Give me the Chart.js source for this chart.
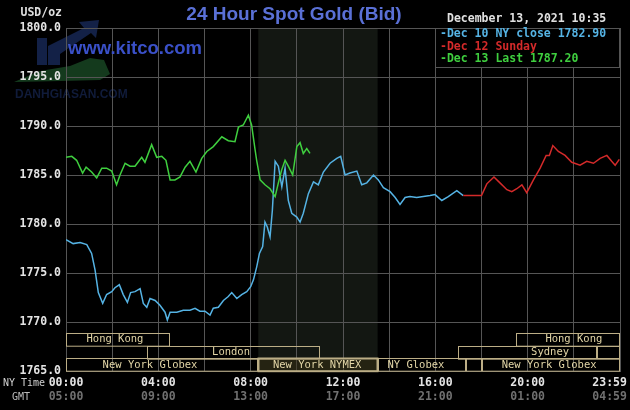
<!DOCTYPE html>
<html>
<head>
<meta charset="utf-8">
<title>24 Hour Spot Gold (Bid)</title>
<script src="https://cdn.jsdelivr.net/npm/chart.js@4.4.1/dist/chart.umd.min.js"></script>
<style>
  html, body { margin: 0; padding: 0; background: #000; }
  canvas { display: block; }
</style>
</head>
<body>
<canvas id="goldChart" width="630" height="410"></canvas>
<script>
// hours after 00:00 NY time, price in USD/oz
const dec10Hours = [0, 0.31, 0.61, 0.9, 1.11, 1.26, 1.4, 1.59, 1.76, 1.98, 2.12, 2.31, 2.48, 2.66, 2.8, 2.99, 3.21, 3.35, 3.5, 3.64, 3.86, 4.07, 4.29, 4.39, 4.51, 4.8, 5.08, 5.37, 5.59, 5.8, 6.02, 6.24, 6.38, 6.6, 6.82, 7.03, 7.18, 7.4, 7.61, 7.83, 8.0, 8.12, 8.26, 8.38, 8.52, 8.62, 8.72, 8.84, 8.94, 9.06, 9.2, 9.35, 9.49, 9.63, 9.78, 10.0, 10.14, 10.28, 10.5, 10.72, 10.93, 11.15, 11.44, 11.73, 11.9, 12.09, 12.3, 12.6, 12.81, 13.03, 13.32, 13.53, 13.75, 14.04, 14.26, 14.47, 14.69, 14.9, 15.19, 15.48, 15.77, 15.99, 16.28, 16.56, 16.93, 17.21];
const dec10Values = [1778.4, 1778.0, 1778.1, 1777.9, 1777.0, 1775.3, 1773.0, 1771.9, 1772.8, 1773.1, 1773.5, 1773.8, 1772.8, 1772.0, 1773.0, 1773.1, 1773.4, 1771.9, 1771.5, 1772.4, 1772.2, 1771.7, 1771.0, 1770.2, 1771.0, 1771.0, 1771.2, 1771.2, 1771.4, 1771.1, 1771.1, 1770.7, 1771.4, 1771.5, 1772.2, 1772.6, 1773.0, 1772.4, 1772.8, 1773.1, 1773.6, 1774.3, 1775.6, 1777.0, 1777.7, 1780.2, 1779.7, 1778.7, 1781.4, 1786.4, 1785.9, 1783.8, 1785.7, 1782.4, 1781.1, 1780.7, 1780.2, 1781.1, 1783.1, 1784.3, 1784.0, 1785.3, 1786.2, 1786.7, 1786.9, 1785.0, 1785.2, 1785.4, 1784.0, 1784.2, 1785.0, 1784.5, 1783.7, 1783.3, 1782.7, 1782.0, 1782.7, 1782.8, 1782.7, 1782.8, 1782.9, 1783.0, 1782.4, 1782.8, 1783.4, 1782.9];

const dec12Hours = [17.21, 18.0, 18.23, 18.54, 18.8, 19.1, 19.31, 19.53, 19.75, 19.96, 20.25, 20.54, 20.8, 20.94, 21.09, 21.33, 21.62, 21.91, 22.27, 22.56, 22.85, 23.14, 23.43, 23.64, 23.79, 23.97];
const dec12Values = [1782.9, 1782.9, 1784.1, 1784.8, 1784.2, 1783.5, 1783.3, 1783.6, 1784.0, 1783.2, 1784.5, 1785.7, 1787.0, 1787.0, 1788.0, 1787.4, 1787.0, 1786.3, 1786.0, 1786.4, 1786.2, 1786.7, 1787.0, 1786.4, 1786.0, 1786.6];

const dec13Hours = [0, 0.25, 0.46, 0.72, 0.87, 1.11, 1.33, 1.55, 1.76, 1.98, 2.19, 2.34, 2.56, 2.77, 2.99, 3.28, 3.42, 3.71, 3.93, 4.15, 4.33, 4.51, 4.72, 4.94, 5.16, 5.37, 5.63, 5.88, 6.1, 6.38, 6.75, 7.03, 7.32, 7.47, 7.68, 7.9, 8.04, 8.19, 8.26, 8.41, 8.62, 8.84, 9.06, 9.2, 9.34, 9.49, 9.63, 9.82, 10.0, 10.14, 10.28, 10.43, 10.57];
const dec13Values = [1786.8, 1786.9, 1786.5, 1785.2, 1785.8, 1785.3, 1784.7, 1785.7, 1785.7, 1785.4, 1784.0, 1785.0, 1786.2, 1785.9, 1785.9, 1786.8, 1786.3, 1788.1, 1786.8, 1786.9, 1786.5, 1784.5, 1784.5, 1784.8, 1785.8, 1786.4, 1785.3, 1786.7, 1787.4, 1787.9, 1788.9, 1788.5, 1788.4, 1789.9, 1790.1, 1791.1, 1790.1, 1787.6, 1786.5, 1784.5, 1784.0, 1783.6, 1782.8, 1784.2, 1785.5, 1786.5, 1785.9, 1785.0, 1787.9, 1788.3, 1787.2, 1787.7, 1787.2];

const seriesLabels = ["Dec 10 NY close 1782.90", "Dec 12 Sunday", "Dec 13 Last 1787.20"];
const seriesColors = ["#55b3e4", "#d42a2a", "#3fcf3f"];

const tickHours = [0, 4, 8, 12, 16, 20, 24];
const nyTimeLabels = ["00:00", "04:00", "08:00", "12:00", "16:00", "20:00", "23:59"];
const gmtLabels = ["05:00", "09:00", "13:00", "17:00", "21:00", "01:00", "04:59"];

// trading sessions strip at the bottom
const sessionNames = ["Hong Kong", "London", "New York Globex", "New York NYMEX", "NY Globex", "", "Hong Kong", "Sydney", "", "New York Globex"];
const sessionRows = [0, 1, 2, 2, 2, 2, 0, 1, 1, 2];
const sessionStart = [0, 3.5, 0, 8.33, 13.5, 17.35, 19.5, 17.0, 23.0, 18.0];
const sessionEnd = [4.5, 11.0, 8.33, 13.5, 17.35, 18.0, 24, 23.0, 24, 24];
const sessionLabelAt = [2.12, 7.15, 3.64, 10.88, 15.16, null, 22.0, 20.97, null, 20.93];
const nymexOpen = 8.33, nymexClose = 13.5;

const MONO = "'DejaVu Sans Mono', monospace";
const SANS = "'Liberation Sans', Arial, sans-serif";
const GRID = "#555555";

function toPoints(hours, values) {
    return hours.map(function (h, i) { return { x: h, y: values[i] }; });
}

function everyTwoHours(scale) {
    let ticks = [];
    for (let h = 0; h <= 24; h += 2) ticks.push({ value: h });
    scale.ticks = ticks;
}

function labelFor(list, value) {
    let i = tickHours.indexOf(value);
    if (i < 0) return "";
    // last label sits left of the edge like the original
    return i === tickHours.length - 1 ? list[i] + "   " : list[i];
}

const kitcoDecor = {
    id: "kitcoDecor",
    beforeDraw: function (chart) {
        let ctx = chart.ctx, area = chart.chartArea, x = chart.scales.x;
        ctx.save();
        ctx.fillStyle = "#131712";
        let x0 = x.getPixelForValue(nymexOpen), x1 = x.getPixelForValue(nymexClose);
        ctx.fillRect(x0, area.top, x1 - x0, area.bottom - area.top);

        // faint site logo, behind the axis labels
        ctx.fillStyle = "#132147";
        ctx.fillRect(37, 38, 10, 27);
        ctx.beginPath();
        ctx.moveTo(48, 65); ctx.lineTo(48, 46); ctx.lineTo(84, 28); ctx.lineTo(79, 22);
        ctx.lineTo(99, 20); ctx.lineTo(96, 38); ctx.lineTo(91, 33); ctx.lineTo(60, 54);
        ctx.lineTo(60, 65); ctx.closePath(); ctx.fill();
        ctx.fillStyle = "#143a1d";
        ctx.beginPath();
        ctx.moveTo(14, 82); ctx.lineTo(40, 71); ctx.lineTo(70, 66); ctx.lineTo(90, 58);
        ctx.lineTo(104, 60); ctx.lineTo(110, 74); ctx.lineTo(100, 80); ctx.lineTo(60, 81);
        ctx.closePath(); ctx.fill();
        ctx.fillStyle = "#101b3a";
        ctx.font = "bold 12px 'Liberation Sans Narrow', " + SANS;
        ctx.textBaseline = "middle";
        ctx.fillText("DANHGIASAN.COM", 15, 95);
        ctx.restore();
    },
    beforeDatasetsDraw: function (chart) {
        let ctx = chart.ctx;
        ctx.save();
        ctx.fillStyle = "#3a50c8";
        ctx.font = "bold 18.5px " + SANS;
        ctx.textBaseline = "middle";
        ctx.fillText("www.kitco.com", 68, 49);
        ctx.restore();
    },
    afterDatasetsDraw: function (chart) {
        let ctx = chart.ctx, area = chart.chartArea, x = chart.scales.x;
        ctx.save();

        // sessions strip
        let rowH = 12.7;
        ctx.font = "10.5px " + MONO;
        ctx.textAlign = "center";
        ctx.textBaseline = "middle";
        for (let i = 0; i < sessionNames.length; i++) {
            let top = area.bottom - (3 - sessionRows[i]) * rowH;
            let x0 = Math.round(x.getPixelForValue(sessionStart[i]));
            let x1 = Math.round(x.getPixelForValue(sessionEnd[i]));
            if (sessionStart[i] === nymexOpen) {
                ctx.fillStyle = "rgba(60, 52, 20, 0.45)";
                ctx.fillRect(x0, top, x1 - x0, rowH);
                ctx.lineWidth = 2;
            } else {
                ctx.lineWidth = 1;
            }
            ctx.strokeStyle = "#bcae86";
            ctx.strokeRect(x0 + 0.5, Math.round(top) + 0.5, x1 - x0 - 1, rowH);
            if (sessionNames[i]) {
                ctx.fillStyle = "#e2d5a6";
                ctx.fillText(sessionNames[i], x.getPixelForValue(sessionLabelAt[i]), top + rowH / 2 + 0.5);
            }
        }

        // legend box
        let lx = 435, ly = area.top, lw = area.right - 1 - lx, lh = 39;
        ctx.fillStyle = "#000";
        ctx.fillRect(lx, ly, lw, lh);
        ctx.strokeStyle = GRID;
        ctx.lineWidth = 1;
        ctx.strokeRect(lx + 0.5, ly + 0.5, lw, lh);
        ctx.textAlign = "left";
        ctx.font = "bold 11.5px " + MONO;
        chart.data.datasets.forEach(function (ds, i) {
            ctx.fillStyle = ds.borderColor;
            ctx.fillText("-" + ds.label, lx + 5, ly + 6.5 + i * 12.5);
        });

        // titles and captions
        ctx.fillStyle = "#5a70d6";
        ctx.font = "bold 19px " + SANS;
        ctx.textAlign = "center";
        ctx.fillText("24 Hour Spot Gold (Bid)", 294, 15);

        ctx.fillStyle = "#e0e0e0";
        ctx.font = "bold 11.5px " + MONO;
        ctx.textAlign = "left";
        ctx.fillText("December 13, 2021 10:35", 447, 19);
        ctx.textAlign = "right";
        ctx.fillText("USD/oz", 62, 13);

        ctx.font = "10px " + MONO;
        ctx.fillStyle = "#d0d0d0";
        ctx.textAlign = "left";
        ctx.fillText("NY Time", 3, 383);
        ctx.fillStyle = "#bdbdbd";
        ctx.fillText("GMT", 12, 397.5);
        ctx.restore();
    }
};

function drawGoldChart() {
    let ctx = document.getElementById("goldChart").getContext("2d");
    let tickFont = { family: MONO, size: 11.5, weight: "bold" };
    new Chart(ctx, {
        type: "line",
        data: {
            datasets: [
                { label: seriesLabels[0], data: toPoints(dec10Hours, dec10Values), borderColor: seriesColors[0], order: 2 },
                { label: seriesLabels[1], data: toPoints(dec12Hours, dec12Values), borderColor: seriesColors[1], order: 1 },
                { label: seriesLabels[2], data: toPoints(dec13Hours, dec13Values), borderColor: seriesColors[2], order: 0 },
            ],
        },
        options: {
            responsive: false,
            animation: false,
            devicePixelRatio: 1,
            layout: { padding: { top: 28, right: 10, left: 0, bottom: 0 } },
            elements: {
                line: { borderWidth: 1.5, tension: 0, fill: false },
                point: { radius: 0 },
            },
            plugins: {
                legend: { display: false },
                tooltip: { enabled: false },
            },
            scales: {
                x: {
                    type: "linear",
                    position: "bottom",
                    weight: 0,
                    min: 0,
                    max: 24,
                    afterBuildTicks: everyTwoHours,
                    afterFit: function (s) { s.height = 19; s.paddingLeft = 0; s.paddingRight = 0; },
                    grid: { color: GRID, drawTicks: false },
                    border: { color: GRID },
                    ticks: {
                        autoSkip: false,
                        maxRotation: 0,
                        padding: 5,
                        color: "#e4e4e4",
                        font: tickFont,
                        callback: function (v) { return labelFor(nyTimeLabels, v); },
                    },
                },
                x2: {
                    type: "linear",
                    position: "bottom",
                    weight: 1,
                    min: 0,
                    max: 24,
                    afterBuildTicks: everyTwoHours,
                    afterFit: function (s) { s.height = 20; s.paddingLeft = 0; s.paddingRight = 0; },
                    grid: { display: false, drawTicks: false },
                    border: { display: false },
                    ticks: {
                        autoSkip: false,
                        maxRotation: 0,
                        padding: 0,
                        color: "#707070",
                        font: tickFont,
                        callback: function (v) { return labelFor(gmtLabels, v); },
                    },
                },
                y: {
                    min: 1765,
                    max: 1800,
                    afterFit: function (s) { s.width = 66; s.paddingTop = 0; s.paddingBottom = 0; },
                    grid: { color: GRID, drawTicks: false },
                    border: { color: GRID },
                    ticks: {
                        stepSize: 5,
                        padding: 5,
                        color: "#e4e4e4",
                        font: tickFont,
                        callback: function (v) { return v.toFixed(1); },
                    },
                },
            },
        },
        plugins: [kitcoDecor],
    });
}

drawGoldChart();
</script>
</body>
</html>
